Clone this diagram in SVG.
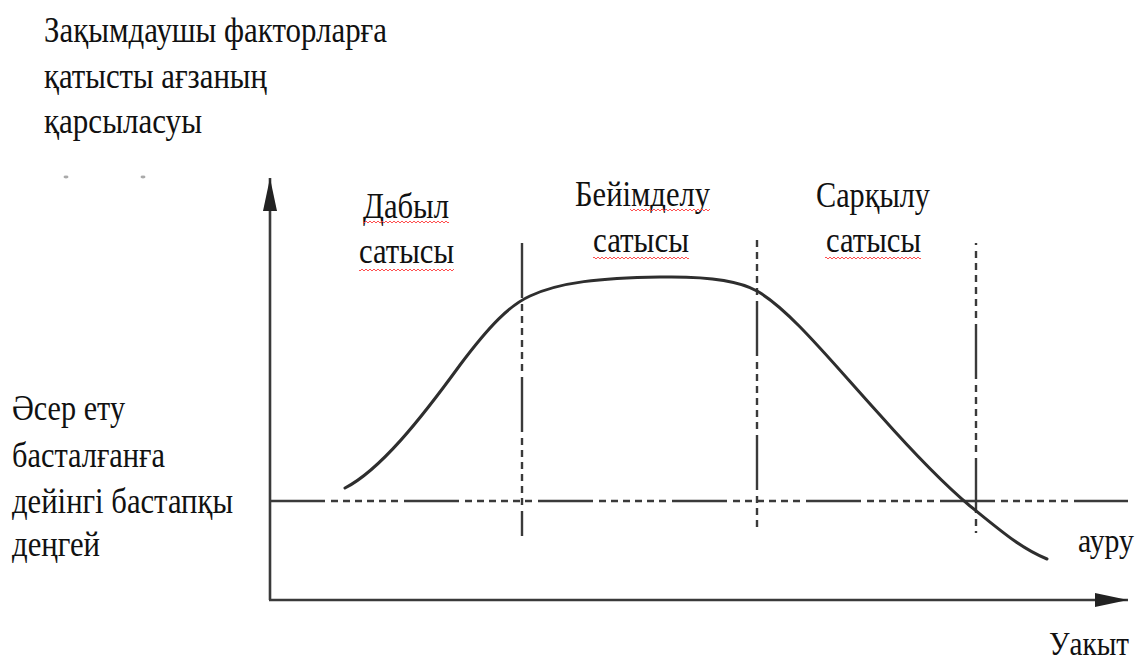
<svg xmlns="http://www.w3.org/2000/svg" width="1143" height="661" viewBox="0 0 1143 661">
  <style>
    text { font-family: 'Liberation Serif', 'DejaVu Serif', serif; }
    .t { font-size: 35px; fill: #111; }
    .s { font-size: 33px; fill: #111; }
    .axis { fill: none; stroke: #3a3a3a; stroke-width: 2.6; }
    .dd { fill: none; stroke: #3a3a3a; stroke-width: 2.4; stroke-dasharray: 55 6 7 5 7 5 7 5 7 5 7 5 7 6; }
    .curve { fill: none; stroke: #2e2e2e; stroke-width: 3; stroke-linecap: round; }
    .wavy { fill: url(#wave); }
  </style>
  <defs>
    <marker id="arrow" markerUnits="userSpaceOnUse" markerWidth="34" markerHeight="14" refX="33" refY="7" orient="auto">
      <path d="M0,0 L33,7 L0,14 z" fill="#222"/>
    </marker>
    <pattern id="wave" patternUnits="userSpaceOnUse" x="0" y="0" width="4" height="4">
      <path d="M0,3 L2,1 L4,3" fill="none" stroke="#ff3b3b" stroke-width="0.9"/>
    </pattern>
  </defs>

  <g id="title" font-family="Liberation Serif, serif">
    <text class="t" x="44" y="42" textLength="343" lengthAdjust="spacingAndGlyphs">Зақымдаушы факторларға</text>
    <text class="t" x="44" y="88" textLength="223" lengthAdjust="spacingAndGlyphs">қатысты ағзаның</text>
    <text class="t" x="44" y="133" textLength="158" lengthAdjust="spacingAndGlyphs">қарсыласуы</text>
  </g>

  <g id="artifacts">
    <ellipse cx="66" cy="177" rx="2.5" ry="1.4" fill="#aaa"/>
    <ellipse cx="143" cy="177" rx="2.5" ry="1.4" fill="#aaa"/>
  </g>

  <g id="baseline-label">
    <text class="t" x="12" y="420" textLength="113" lengthAdjust="spacingAndGlyphs">Әсер ету</text>
    <text class="t" x="12" y="467" textLength="153" lengthAdjust="spacingAndGlyphs">басталғанға</text>
    <text class="t" x="12" y="513" textLength="221" lengthAdjust="spacingAndGlyphs">дейінгі бастапқы</text>
    <text class="t" x="12" y="556" textLength="88" lengthAdjust="spacingAndGlyphs">деңгей</text>
  </g>

  <g id="stage-alarm">
    <text class="t" x="363" y="218" textLength="86" lengthAdjust="spacingAndGlyphs">Дабыл</text>
    <text class="t" x="359" y="263" textLength="95" lengthAdjust="spacingAndGlyphs">сатысы</text>
    <rect class="wavy" x="363" y="220" width="86" height="4"/>
    <rect class="wavy" x="359" y="268" width="95" height="4"/>
  </g>

  <g id="stage-adaptation">
    <text class="t" x="575" y="206" textLength="135" lengthAdjust="spacingAndGlyphs">Бейімделу</text>
    <text class="t" x="593" y="252" textLength="96" lengthAdjust="spacingAndGlyphs">сатысы</text>
    <rect class="wavy" x="630" y="208" width="80" height="4"/>
    <rect class="wavy" x="593" y="256" width="96" height="4"/>
  </g>

  <g id="stage-exhaustion">
    <text class="t" x="816" y="207" textLength="114" lengthAdjust="spacingAndGlyphs">Сарқылу</text>
    <text class="t" x="826" y="252" textLength="95" lengthAdjust="spacingAndGlyphs">сатысы</text>
    <rect class="wavy" x="825" y="256" width="96" height="4"/>
  </g>

  <g id="labels">
    <text class="s" x="1078" y="552" textLength="56" lengthAdjust="spacingAndGlyphs">ауру</text>
    <text class="s" x="1049" y="655" textLength="80" lengthAdjust="spacingAndGlyphs">Уакыт</text>
  </g>

  <g id="connectors">
    <path class="axis" d="M270,600 L270,178" marker-end="url(#arrow)"/>
    <path class="axis" d="M269,600 L1128,600" marker-end="url(#arrow)"/>
    <path class="dd" d="M270,501 L1128,501"/>
    <path class="dd" d="M522,243 L522,536"/>
    <path class="dd" d="M757,240 L757,530" style="stroke-dashoffset:73"/>
    <path class="dd" d="M976,243 L976,533" style="stroke-dashoffset:53"/>
    <path class="curve" d="M345,488 C380,470 420,420 460,365 C490,325 510,305 530,296 C560,282 600,278 660,277 C710,276 740,281 757,291 C790,310 830,360 880,415 C920,460 945,485 970,506 C1000,530 1020,548 1047,559"/>
  </g>
</svg>
